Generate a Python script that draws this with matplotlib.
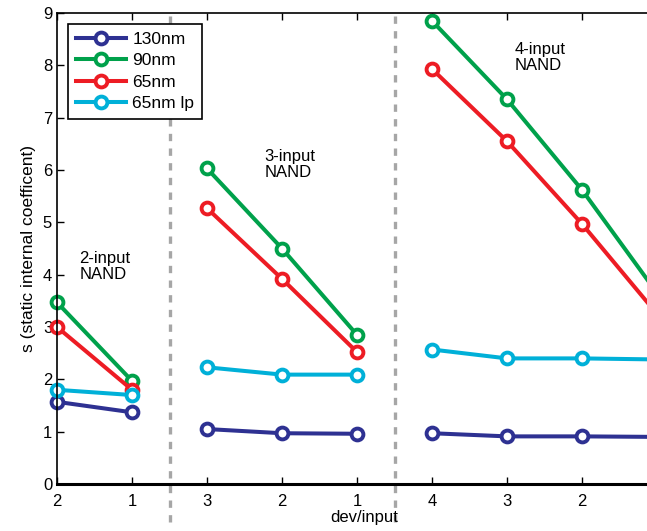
import matplotlib
matplotlib.use("Agg")
import matplotlib.pyplot as plt

plt.rcParams['font.family'] = ['Liberation Sans', 'DejaVu Sans']

# x tick labels (dev/input) per group; the last point (dev/input=1 of the
# 4-input group) sits just beyond the right edge of the picture
tick_labels = ['2', '1', '3', '2', '1', '4', '3', '2']
groups = [[0, 1], [2, 3, 4], [5, 6, 7, 8]]

s_130nm = [1.57, 1.37, 1.05, 0.97, 0.96, 0.97, 0.91, 0.91, 0.90]
s_90nm = [3.47, 1.97, 6.03, 4.50, 2.85, 8.85, 7.35, 5.62, 3.65]
s_65nm = [3.00, 1.80, 5.27, 3.92, 2.52, 7.93, 6.55, 4.97, 3.25]
s_65lp = [1.80, 1.70, 2.23, 2.09, 2.09, 2.57, 2.40, 2.40, 2.38]

series = [('130nm', s_130nm, '#2e3192'),
          ('90nm', s_90nm, '#00a14b'),
          ('65nm', s_65nm, '#ed1c24'),
          ('65nm lp', s_65lp, '#00b0d8')]

group_text = ['2-input\nNAND', '3-input\nNAND', '4-input\nNAND']
text_pos = [(0.3, 4.45), (2.77, 6.4), (6.1, 8.45)]

fig = plt.figure(figsize=(6.47, 5.31), dpi=100)
xmax = 8.2
ax = fig.add_axes([57 / 647, 47 / 531, xmax * 75 / 647, 471 / 531])

for name, vals, col in series:
    for gi, g in enumerate(groups):
        ax.plot(g, [vals[i] for i in g], '-o', color=col, lw=2.9, ms=8.5,
                mew=2.8, mfc='white', label=name if gi == 0 else None,
                clip_on=False if max(g) < 8 else True)

# group separators
for xs in [1.5, 4.5]:
    ax.plot([xs, xs], [-0.72, 9], ls=(0, (2.2, 2.2)), color='#a6a6a6', lw=2.4,
            clip_on=False, zorder=0)

for txt, (tx, ty) in zip(group_text, text_pos):
    ax.text(tx, ty, txt, fontsize=12, va='top', ha='left', linespacing=1.1)

ax.set_xlim(0, xmax)
ax.set_ylim(0, 9)
ax.set_xticks(range(len(tick_labels)))
ax.set_xticklabels(tick_labels, fontsize=12)
ax.set_yticks(range(10))
ax.tick_params(axis='y', labelsize=12)
ax.tick_params(direction='in', top=True, right=False, length=5, width=1)
ax.tick_params(axis='x', pad=7)
ax.set_xlabel('dev/input', fontsize=12, labelpad=1)
ax.set_ylabel('s (static internal coefficent)', fontsize=12.5, labelpad=5)
ax.spines['right'].set_visible(False)
ax.spines['left'].set_linewidth(1.2)
ax.spines['top'].set_linewidth(1.2)
ax.spines['bottom'].set_linewidth(2.2)

leg = ax.legend(loc='upper left', fontsize=12.5, handlelength=2.9,
                fancybox=False, framealpha=1, borderpad=0.45,
                labelspacing=0.36, handletextpad=0.35,
                bbox_to_anchor=(0.004, 0.995))
leg.get_frame().set_edgecolor('black')
leg.get_frame().set_linewidth(1.2)

fig.savefig('out.png', dpi=100)
